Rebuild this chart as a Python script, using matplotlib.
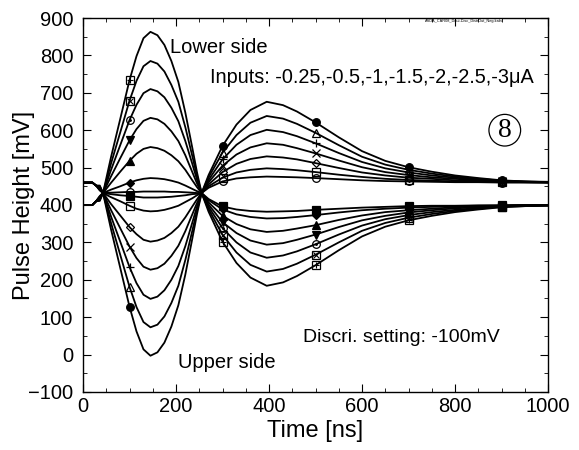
import matplotlib.pyplot as plt
from matplotlib.ticker import MultipleLocator

plt.rcParams['font.family'] = ['Liberation Sans', 'DejaVu Sans']

# time axis [ns]
T = [0, 20, 28, 36, 43, 60, 80, 100, 115, 130, 145, 160, 175, 190, 205, 220, 235, 245, 255,
     270, 300, 330, 360, 395, 430, 460, 500, 550, 600, 650, 700, 750, 800, 850, 900, 950, 1000]

# "Lower side" curves (go up first, settle at ~400 mV), largest input first
lower_3 = [400, 400, 410, 411, 432, 527, 630, 734, 798, 846, 863, 854, 828, 785, 729, 647, 553, 488, 432,
           382, 302, 245, 206, 184, 193, 210, 239, 279, 316, 342, 359, 371, 381, 388, 394, 397, 398]
lower_25 = [400, 400, 410, 413, 432, 510, 594, 679, 732, 771, 785, 778, 757, 721, 676, 608, 531, 478, 432,
            389, 320, 273, 240, 222, 229, 243, 267, 300, 331, 352, 366, 376, 384, 390, 395, 397, 399]
lower_2 = [400, 400, 410, 416, 432, 493, 560, 627, 668, 699, 710, 704, 688, 660, 624, 571, 510, 468, 432,
           395, 338, 300, 273, 259, 265, 276, 295, 321, 345, 362, 373, 381, 387, 392, 396, 398, 399]
lower_15 = [400, 400, 410, 418, 432, 476, 525, 573, 603, 625, 633, 629, 617, 597, 571, 533, 488, 458, 432,
            401, 354, 325, 305, 294, 298, 307, 321, 341, 359, 371, 380, 386, 391, 394, 397, 398, 399]
lower_1 = [400, 400, 410, 420, 432, 459, 489, 518, 537, 550, 555, 552, 545, 533, 517, 494, 466, 448, 432,
           407, 371, 349, 335, 328, 331, 337, 346, 360, 372, 381, 386, 390, 394, 396, 398, 399, 400]
lower_05 = [400, 400, 410, 423, 432, 441, 450, 460, 466, 470, 472, 471, 469, 465, 460, 452, 443, 437, 432,
            413, 388, 375, 368, 364, 365, 368, 373, 380, 386, 390, 393, 395, 397, 398, 399, 400, 400]
lower_025 = [400, 400, 410, 424, 432, 429, 426, 424, 422, 420, 420, 420, 421, 422, 424, 426, 429, 430, 432,
             416, 396, 388, 384, 382, 383, 384, 387, 390, 393, 395, 397, 398, 398, 399, 399, 400, 400]

# "Upper side" curves (go down first, settle at ~460 mV), largest input first
upper_3 = [460, 460, 452, 452, 432, 336, 232, 128, 62, 14, -3, 6, 32, 75, 132, 214, 310, 375, 432,
           480, 558, 615, 654, 676, 667, 650, 621, 581, 544, 518, 501, 489, 479, 472, 466, 463, 462]
upper_25 = [460, 460, 452, 450, 432, 353, 267, 181, 127, 87, 73, 80, 102, 138, 184, 253, 331, 385, 432,
            474, 540, 587, 620, 638, 631, 617, 593, 560, 529, 508, 494, 484, 476, 470, 465, 463, 461]
upper_2 = [460, 460, 452, 448, 432, 370, 302, 234, 191, 160, 149, 155, 172, 200, 237, 290, 353, 395, 432,
           467, 522, 561, 587, 601, 595, 584, 565, 539, 515, 498, 487, 479, 473, 468, 464, 462, 461]
upper_15 = [460, 460, 452, 445, 432, 387, 338, 289, 258, 235, 227, 231, 243, 264, 291, 330, 375, 405, 432,
            461, 505, 535, 554, 565, 561, 552, 538, 519, 501, 488, 480, 474, 470, 466, 463, 462, 461]
upper_1 = [460, 460, 452, 443, 432, 403, 372, 341, 322, 307, 302, 305, 312, 325, 342, 367, 396, 415, 432,
           455, 488, 510, 523, 530, 527, 522, 512, 499, 487, 479, 473, 470, 466, 464, 462, 461, 460]
upper_05 = [460, 460, 452, 440, 432, 421, 410, 398, 390, 385, 383, 384, 387, 392, 398, 408, 418, 426, 432,
            450, 473, 487, 494, 498, 496, 493, 488, 481, 475, 470, 467, 465, 463, 462, 461, 461, 460]
upper_025 = [460, 460, 452, 439, 432, 433, 434, 435, 435, 436, 436, 436, 436, 435, 435, 434, 433, 432, 432,
             446, 463, 471, 474, 476, 475, 474, 472, 469, 466, 464, 463, 462, 461, 461, 460, 460, 460]

# measured points carry markers (t = 100, 300, 500, 700, 900 ns)
MARK_IDX = [7, 20, 26, 30, 34]

lower_curves = [lower_3, lower_25, lower_2, lower_15, lower_1, lower_05, lower_025]
upper_curves = [upper_3, upper_25, upper_2, upper_15, upper_1, upper_05, upper_025]

# (marker, face, overlay marker)
lower_marks = [('s', 'none', '+'), ('s', 'none', 'x'), ('o', 'none', '.'),
               ('v', 'k', None), ('^', 'k', None), ('D', 'k', None), ('s', 'k', None)]
upper_marks = [('o', 'k', None), ('^', 'none', None), ('+', 'k', None), ('x', 'k', None),
               ('D', 'none', None), ('s', 'none', None), ('o', 'none', None)]

fig = plt.figure(figsize=(5.79, 4.5), dpi=100)
ax = fig.add_axes([0.1434, 0.1289, 0.8031, 0.8311])

for curves, marks in [(lower_curves, lower_marks), (upper_curves, upper_marks)]:
    for vals, (m, face, over) in zip(curves, marks):
        ax.plot(T, vals, color='k', lw=1.3)
        tx = [T[i] for i in MARK_IDX]
        vy = [vals[i] for i in MARK_IDX]
        ms = 4.5 if m == 'D' else 5.5
        ax.plot(tx, vy, ls='none', marker=m, mfc=face, mec='k', mew=0.9,
                ms=ms, color='k', zorder=3)
        if over is not None:
            ax.plot(tx, vy, ls='none', marker=over, color='k', mew=0.8,
                    ms=4.5 if over != '.' else 2.5, zorder=4)

ax.set_xlim(0, 1000)
ax.set_ylim(-100, 900)
ax.xaxis.set_major_locator(MultipleLocator(200))
ax.xaxis.set_minor_locator(MultipleLocator(50))
ax.yaxis.set_major_locator(MultipleLocator(100))
ax.yaxis.set_minor_locator(MultipleLocator(50))
ax.tick_params(which='both', direction='in', top=True, right=True, labelsize=14.5)
ax.tick_params(which='major', length=6)
ax.tick_params(which='minor', length=3)
ax.tick_params(axis='y', pad=7)
for sp in ax.spines.values():
    sp.set_linewidth(1.0)

ax.set_xlabel('Time [ns]', fontsize=17, labelpad=3)
ax.set_ylabel('Pulse Height [mV]', fontsize=17, va='center')
ax.yaxis.set_label_coords(-0.128, 0.5)

ax.text(187, 822, 'Lower side', fontsize=14.5, va='center')
ax.text(273, 742, 'Inputs: -0.25,-0.5,-1,-1.5,-2,-2.5,-3\u03bcA', fontsize=14.3, va='center')
ax.text(907, 600, '8', fontsize=20, family=['Liberation Serif', 'DejaVu Serif'],
        ha='center', va='center',
        bbox=dict(boxstyle='circle,pad=0.12', fc='white', ec='k', lw=0.9))
ax.text(473, 47, 'Discri. setting: -100mV', fontsize=14, va='center')
ax.text(205, -21, 'Upper side', fontsize=14.5, va='center')
ax.text(735, 893, 'ASDA_CAR08_Dout-Disc_DistrOut_Neg.kaln', fontsize=2.8, va='center')

fig.savefig('out.png', dpi=100)
